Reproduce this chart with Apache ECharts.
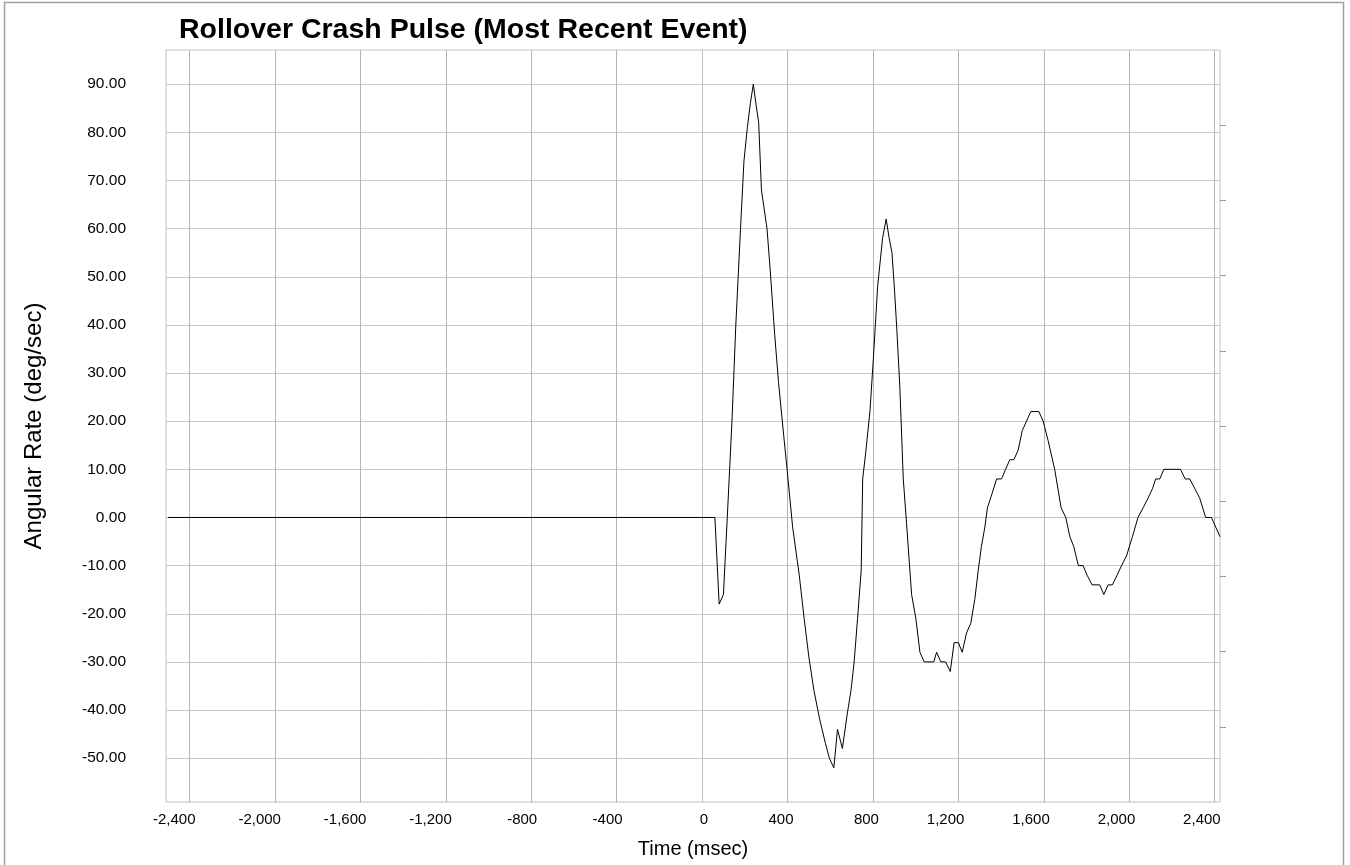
<!DOCTYPE html>
<html>
<head>
<meta charset="utf-8">
<script src="https://cdn.jsdelivr.net/npm/echarts@6/dist/echarts.min.js"></script>
<style>
html,body{margin:0;padding:0;background:#fff;}
#chart{width:1350px;height:865px;}
</style>
</head>
<body>
<div id="chart"></div>
<script>
// Time (msec) of each sample
const times = [-2500, 60, 80, 100, 118, 140, 158, 180, 196, 212, 226, 240, 252, 265, 278, 304, 318, 340, 358, 380, 398, 424, 455, 478, 500, 524, 551, 578, 596, 617, 634, 657, 679, 697, 712, 728, 745, 752, 765, 786, 802, 822, 845, 862, 876, 889, 900, 912, 926, 942, 957, 981, 1001, 1020, 1040, 1085, 1098, 1118, 1140, 1162, 1180, 1200, 1218, 1238, 1258, 1277, 1293, 1308, 1324, 1336, 1358, 1379, 1402, 1421, 1441, 1460, 1480, 1499, 1519, 1539, 1577, 1597, 1620, 1651, 1681, 1703, 1722, 1740, 1762, 1784, 1803, 1826, 1862, 1881, 1901, 1921, 1943, 1964, 1987, 2015, 2041, 2065, 2088, 2109, 2124, 2143, 2162, 2240, 2262, 2283, 2307, 2330, 2358, 2385, 2405, 2425];
// Angular rate (deg/sec)
const rates = [0, 0, -18, -16, 0, 20, 40, 60, 74, 81, 86, 90, 86, 82, 68, 60, 52, 38, 28, 18, 10, -2, -12, -21, -29, -36, -42, -47, -50, -52, -44, -48, -41, -36, -30, -21, -11, 8, 13, 22, 33, 48, 58, 62, 58, 55, 48, 39, 27, 8, -1, -16, -21, -28, -30, -30, -28, -30, -30, -32, -26, -26, -28, -24, -22, -17, -11, -6, -2, 2, 5, 8, 8, 10, 12, 12, 14, 18, 20, 22, 22, 20, 16, 10, 2, 0, -4, -6, -10, -10, -12, -14, -14, -16, -14, -14, -12, -10, -8, -4, 0, 2, 4, 6, 8, 8, 10, 10, 8, 8, 6, 4, 0, 0, -2, -4];
const xTicks = [-2400, -2000, -1600, -1200, -800, -400, 0, 400, 800, 1200, 1600, 2000, 2400];
const yTicks = [-50, -40, -30, -20, -10, 0, 10, 20, 30, 40, 50, 60, 70, 80, 90];
const rightTicks = [1, 2, 3, 4, 5, 6, 7, 8, 9];

const FONT = '"Liberation Sans", Arial, sans-serif';
const chart = echarts.init(document.getElementById('chart'), null, {renderer: 'canvas'});
const data = times.map((t, i) => [t, rates[i]]);
function fmtX(v) {
  const s = Math.abs(v).toString().replace(/\B(?=(\d{3})+(?!\d))/g, ',');
  return (v < 0 ? '-' : '') + s;
}
chart.setOption({
  animation: false,
  backgroundColor: '#ffffff',
  title: {
    text: 'Rollover Crash Pulse (Most Recent Event)',
    left: 179, top: 16, padding: 0,
    textStyle: {fontFamily: FONT, fontWeight: 'bold', fontSize: 28.5, color: '#000'}
  },
  graphic: [{
    type: 'rect', silent: true,
    shape: {x: 4.5, y: 2.5, width: 1339, height: 880},
    style: {fill: 'none', stroke: '#a0a0a0', lineWidth: 1.5}
  }],
  grid: {left: 166, right: 130, top: 50, bottom: 63, show: true, borderColor: '#c0c0c0', borderWidth: 1, containLabel: false},
  xAxis: {
    type: 'value', min: -2510, max: 2425,
    name: 'Time (msec)', nameLocation: 'middle', nameGap: 37,
    nameTextStyle: {fontFamily: FONT, fontSize: 20, color: '#000'},
    axisLine: {show: true, lineStyle: {color: '#c0c0c0'}},
    axisTick: {show: true, customValues: xTicks, length: 3, lineStyle: {color: '#b0b0b0'}},
    axisLabel: {customValues: xTicks, formatter: fmtX, fontFamily: FONT, fontSize: 15, color: '#000', margin: 10, align: 'right', padding: [0, -6, 0, 0]},
    splitLine: {show: true, lineStyle: {color: '#b4b4b4', width: 1}}
  },
  yAxis: [{
    type: 'value', min: -59.1, max: 97.1,
    name: 'Angular Rate (deg/sec)', nameLocation: 'middle', nameGap: 120, nameRotate: 90,
    nameTextStyle: {fontFamily: FONT, fontSize: 24, color: '#000'},
    axisLine: {show: true, lineStyle: {color: '#c0c0c0'}},
    axisTick: {show: true, customValues: yTicks, length: 6, lineStyle: {color: '#c8c8c8'}},
    axisLabel: {customValues: yTicks, formatter: v => v.toFixed(2), fontFamily: FONT, fontSize: 15.5, color: '#000', margin: 40},
    splitLine: {show: true, lineStyle: {color: '#c8c8c8', width: 1}}
  }, {
    type: 'value', min: 0, max: 10, position: 'right',
    axisLine: {show: false},
    axisTick: {show: true, customValues: rightTicks, length: 6, lineStyle: {color: '#999'}},
    axisLabel: {show: false},
    splitLine: {show: false}
  }],
  series: [{
    type: 'line', data: data, showSymbol: false, symbol: 'none',
    lineStyle: {color: '#000', width: 1}, clip: true
  }, {
    type: 'line', yAxisIndex: 1, data: [], silent: true
  }]
});
</script>
</body>
</html>
